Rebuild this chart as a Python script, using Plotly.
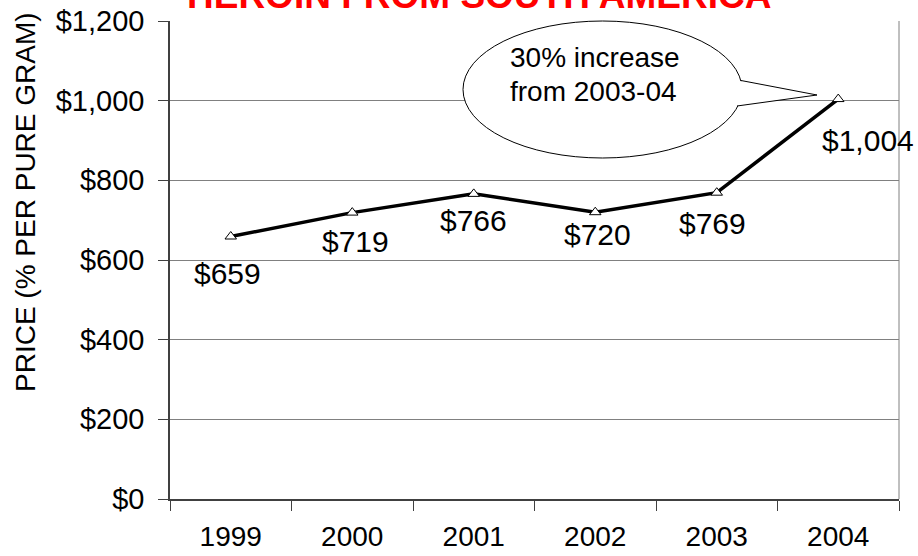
import plotly.graph_objects as go

years = ["1999", "2000", "2001", "2002", "2003", "2004"]
prices = [659, 719, 766, 720, 769, 1004]
price_labels = ["$659", "$719", "$766", "$720", "$769", "$1,004"]
label_dx = [-3, 3, 0, 2, -4, 30]
label_dy = [-37, -29, -27, -22, -31, -41]

FONT = "Arial, Liberation Sans, sans-serif"

fig = go.Figure()
fig.add_trace(go.Scatter(
    x=years, y=prices, mode="lines+markers",
    line=dict(color="black", width=3.5),
    marker=dict(symbol="triangle-up", size=10, color="white",
                line=dict(color="black", width=1)),
    cliponaxis=False, showlegend=False,
))

for i, (p, lab, dx, dy) in enumerate(zip(prices, price_labels, label_dx, label_dy)):
    fig.add_annotation(x=i, y=p, xref="x", yref="y", text=lab, showarrow=False,
                       xanchor="center", yanchor="middle",
                       xshift=dx, yshift=dy, font=dict(family=FONT, size=30, color="black"))

L, R, T, B = 170, 899, 21, 499
def px(x):
    return (x - L) / (R - L)
def py(y):
    return (B - y) / (B - T)

shapes = []
# callout ellipse
shapes.append(dict(type="circle", xref="paper", yref="paper",
                   x0=px(463), x1=px(742), y0=py(158), y1=py(21),
                   line=dict(color="black", width=1), fillcolor="white", layer="above"))
# tail fill to hide ellipse edge
shapes.append(dict(type="path", xref="paper", yref="paper",
                   path=f"M {px(740)} {py(81)} L {px(817)} {py(95)} L {px(736)} {py(106)} L {px(730)} {py(93)} Z",
                   line=dict(width=0), fillcolor="white", layer="above"))
shapes.append(dict(type="line", xref="paper", yref="paper",
                   x0=px(741), y0=py(80.5), x1=px(817), y1=py(95),
                   line=dict(color="black", width=1), layer="above"))
shapes.append(dict(type="line", xref="paper", yref="paper",
                   x0=px(737), y0=py(106), x1=px(817), y1=py(95),
                   line=dict(color="black", width=1), layer="above"))
# right border
shapes.append(dict(type="line", xref="paper", yref="paper", x0=1, x1=1, y0=0, y1=1,
                   line=dict(color="#808080", width=1), layer="below"))

fig.add_annotation(xref="paper", yref="paper", x=px(508), y=py(58), xanchor="left", yanchor="middle",
                   text="30% increase", showarrow=False,
                   font=dict(family=FONT, size=28, color="black"))
fig.add_annotation(xref="paper", yref="paper", x=px(508), y=py(92), xanchor="left", yanchor="middle",
                   text="from 2003-04", showarrow=False,
                   font=dict(family=FONT, size=28, color="black"))

# title (clipped at top)
fig.add_annotation(xref="paper", yref="paper", x=px(479), y=py(-4), xanchor="center", yanchor="middle",
                   text="<b>HEROIN FROM SOUTH AMERICA</b>", showarrow=False,
                   font=dict(family=FONT, size=37, color="red"))
# y axis title
fig.add_annotation(xref="paper", yref="paper", x=px(26), y=py(202), textangle=-90,
                   xanchor="center", yanchor="middle",
                   text="PRICE (% PER PURE GRAM)", showarrow=False,
                   font=dict(family=FONT, size=28, color="black"))

fig.update_layout(
    width=918, height=556,
    margin=dict(l=L, r=918 - R, t=T, b=556 - B, autoexpand=False),
    paper_bgcolor="white", plot_bgcolor="white",
    shapes=shapes,
    xaxis=dict(type="category", range=[-0.5, 5.5], showline=True, linecolor="#404040", linewidth=1.5,
               ticks="outside", tickson="boundaries", ticklen=10, tickcolor="#404040",
               showgrid=False, ticklabelstandoff=12, tickangle=0, automargin=False,
               tickfont=dict(family=FONT, size=28, color="black")),
    yaxis=dict(range=[0, 1200], dtick=200, tickprefix="$", tickformat=",",
               showline=True, linecolor="#404040", linewidth=1.5,
               ticks="outside", ticklen=10, tickcolor="#404040",
               showgrid=True, gridcolor="#808080", gridwidth=1, automargin=False,
               zeroline=False, ticklabelstandoff=8,
               tickfont=dict(family=FONT, size=29, color="black")),
)

fig.write_html("out.html", config={"displayModeBar": False},
               post_script="document.body.style.margin='0';document.body.style.overflow='hidden';")
